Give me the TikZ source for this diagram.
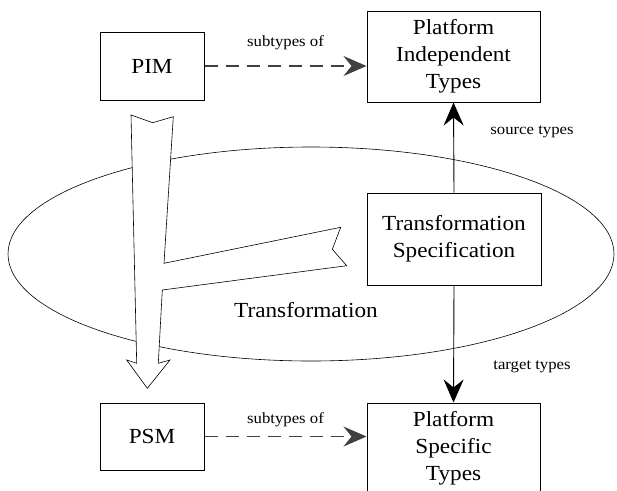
\documentclass[tikz,border=0pt]{standalone}
\usepackage{fontspec}
\setmainfont{Liberation Serif}[FakeStretch=1.08]
\usetikzlibrary{arrows.meta}
\begin{document}
\begin{tikzpicture}[x=1pt,y=-1pt,
  box/.style={draw,line width=1pt,align=center,inner sep=0pt,
    font=\fontsize{21.5}{27}\selectfont},
  lbl/.style={font=\fontsize{15.5}{18}\selectfont,inner sep=0pt},
  tip/.style={-{Stealth[length=23pt,width=20pt,inset=8pt]}},
  dep/.style={tip,dash pattern=on 13pt off 8pt,line width=1.3pt,draw=black!75},
  link/.style={tip,line width=0.9pt}]
\useasboundingbox (0,0) rectangle (617,490);
\begin{scope}
\clip (0,0) rectangle (617,490);
% the transformation area
\draw[line width=0.6pt] (311,254) ellipse [x radius=303, y radius=107];
% model transformation arrow with its branch towards the specification
\draw[line width=0.6pt,fill=white,line join=miter]
  (131,115) -- (152.7,122.7) -- (173.3,116.7) -- (164,263.3)
  -- (340.7,227.3) -- (332.3,249.3) -- (346.7,265.7)
  -- (162.3,290) -- (158.3,363.3) -- (170,360) -- (147.3,388.3)
  -- (126.7,360) -- (136.7,363.3) -- cycle;
\node[font=\fontsize{21.5}{27}\selectfont] (tlabel) at (306,310) {Transformation};
% models and type systems
\node[box,minimum width=104pt,minimum height=68pt] (pim) at (152,66) {PIM};
\node[box,minimum width=173pt,minimum height=91pt] (pit) at (453.5,56.5)
  {Platform\\Independent\\Types};
\node[box,minimum width=174pt,minimum height=92pt] (ts) at (454,239)
  {Transformation\\Specification};
\node[box,minimum width=104pt,minimum height=67pt] (psm) at (152,436.5) {PSM};
\node[box,minimum width=173pt,minimum height=91pt] (pst) at (453.5,448.5)
  {Platform\\Specific\\Types};
% relations
\draw[dep] (pim.east) -- (pim.east -| pit.west)
  node[lbl,text=black,midway,above=16pt] (sub1) {subtypes of};
\draw[dep] (psm.east) -- (psm.east -| pst.west)
  node[lbl,text=black,midway,above=9pt] (sub2) {subtypes of};
\draw[link] (ts.north) -- (pit.south);
\draw[link] (ts.south) -- (pst.north);
\node[lbl] (src) at (532,132) {source types};
\node[lbl] (tgt) at (532,367) {target types};
\end{scope}
\end{tikzpicture}
\end{document}
